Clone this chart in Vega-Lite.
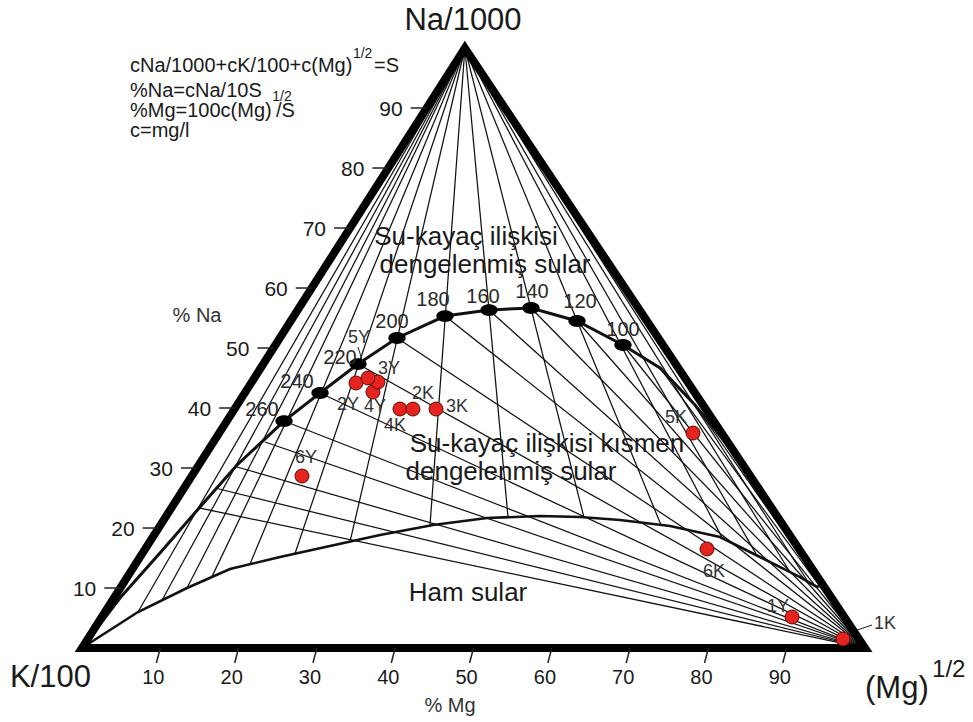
{
  "$schema": "https://vega.github.io/schema/vega-lite/v6.json",
  "width": 973,
  "height": 722,
  "padding": 0,
  "autosize": {"type": "none"},
  "background": "white",
  "config": {"view": {"stroke": null}, "font": "Liberation Sans", "text": {"color": "#1a1a1a"}},
  "encoding": {
    "x": {"field": "x", "type": "quantitative", "scale": {"domain": [-10.47, 113.79], "nice": false, "zero": false}, "axis": null},
    "y": {"field": "y", "type": "quantitative", "scale": {"domain": [-12.33, 108], "nice": false, "zero": false}, "axis": null}
  },
  "datasets": {
    "frame": [
      {"vertex": "K/100", "x": 0, "y": 0, "o": 1},
      {"vertex": "Mg", "x": 100, "y": 0, "o": 2},
      {"vertex": "Na/1000", "x": 48.9, "y": 100, "o": 3}
    ],
    "fullEq": [
      {"x": 0, "y": 0, "o": 1},
      {"x": 4.85, "y": 8.33, "o": 2},
      {"x": 9.96, "y": 15.83, "o": 3},
      {"x": 15.07, "y": 23.5, "o": 4},
      {"x": 19.8, "y": 30.5, "o": 5},
      {"x": 25.8, "y": 37.83, "o": 6},
      {"x": 30.4, "y": 42.5, "o": 7},
      {"x": 35.25, "y": 47.33, "o": 8},
      {"x": 40.23, "y": 51.67, "o": 9},
      {"x": 46.36, "y": 55.33, "o": 10},
      {"x": 51.98, "y": 56.33, "o": 11},
      {"x": 57.34, "y": 56.67, "o": 12},
      {"x": 63.22, "y": 54.5, "o": 13},
      {"x": 69.09, "y": 50.5, "o": 14},
      {"x": 73.82, "y": 46.67, "o": 15},
      {"x": 78.29, "y": 40.5, "o": 16},
      {"x": 83.65, "y": 31.83, "o": 17},
      {"x": 100, "y": 0, "o": 18}
    ],
    "immature": [
      {"x": 0, "y": 0, "o": 1},
      {"x": 7.15, "y": 6.0, "o": 2},
      {"x": 13.41, "y": 10.0, "o": 3},
      {"x": 18.9, "y": 13.17, "o": 4},
      {"x": 25.29, "y": 15.17, "o": 5},
      {"x": 31.67, "y": 17.0, "o": 6},
      {"x": 38.06, "y": 18.83, "o": 7},
      {"x": 44.83, "y": 20.5, "o": 8},
      {"x": 51.72, "y": 21.67, "o": 9},
      {"x": 58.49, "y": 22.0, "o": 10},
      {"x": 63.6, "y": 21.83, "o": 11},
      {"x": 68.71, "y": 21.33, "o": 12},
      {"x": 75.1, "y": 20.33, "o": 13},
      {"x": 81.48, "y": 18.5, "o": 14},
      {"x": 86.59, "y": 15.17, "o": 15},
      {"x": 91.7, "y": 11.83, "o": 16},
      {"x": 93.87, "y": 10.17, "o": 17},
      {"x": 94.38, "y": 10.5, "o": 18}
    ],
    "naFan": [
      {"t": 320, "x": 7.15, "y": 6.0},
      {"t": 300, "x": 10.22, "y": 7.96},
      {"t": 280, "x": 13.41, "y": 10.0},
      {"t": 260, "x": 16.6, "y": 11.9},
      {"t": 240, "x": 21.46, "y": 14.0},
      {"t": 220, "x": 27.2, "y": 15.72},
      {"t": 200, "x": 34.23, "y": 17.73},
      {"t": 180, "x": 44.44, "y": 20.4},
      {"t": 160, "x": 54.41, "y": 21.8},
      {"t": 140, "x": 64.11, "y": 21.78},
      {"t": 120, "x": 73.95, "y": 20.5},
      {"t": 100, "x": 81.74, "y": 18.4},
      {"t": 80, "x": 86.21, "y": 15.4},
      {"t": 60, "x": 90.42, "y": 12.67},
      {"t": 40, "x": 92.72, "y": 11.05}
    ],
    "mgFan": [
      {"t": 340, "x": 15.07, "y": 23.33},
      {"t": 320, "x": 16.99, "y": 26.67},
      {"t": 300, "x": 19.8, "y": 30.17},
      {"t": 280, "x": 23.37, "y": 34.33},
      {"t": 260, "x": 25.8, "y": 37.83},
      {"t": 240, "x": 30.4, "y": 42.5},
      {"t": 220, "x": 35.25, "y": 47.33},
      {"t": 200, "x": 40.23, "y": 51.67},
      {"t": 180, "x": 46.36, "y": 55.33},
      {"t": 160, "x": 51.98, "y": 56.33},
      {"t": 140, "x": 57.34, "y": 56.67},
      {"t": 120, "x": 63.22, "y": 54.5},
      {"t": 100, "x": 69.09, "y": 50.5},
      {"t": 80, "x": 73.82, "y": 46.67},
      {"t": 60, "x": 78.29, "y": 40.5}
    ],
    "tempDots": [
      {"t": 260, "x": 25.8, "y": 37.83},
      {"t": 240, "x": 30.4, "y": 42.5},
      {"t": 220, "x": 35.25, "y": 47.33},
      {"t": 200, "x": 40.23, "y": 51.67},
      {"t": 180, "x": 46.36, "y": 55.33},
      {"t": 160, "x": 51.98, "y": 56.33},
      {"t": 140, "x": 57.34, "y": 56.67},
      {"t": 120, "x": 63.22, "y": 54.5},
      {"t": 100, "x": 69.09, "y": 50.5}
    ],
    "samples": [
      {"id": "6Y", "x": 28.1, "y": 28.67},
      {"id": "2Y", "x": 34.99, "y": 44.17},
      {"id": "4Y", "x": 37.16, "y": 42.67},
      {"id": "3Y", "x": 37.8, "y": 44.33},
      {"id": "5Y", "x": 36.53, "y": 45.0},
      {"id": "4K", "x": 40.61, "y": 39.83},
      {"id": "2K", "x": 42.27, "y": 39.83},
      {"id": "3K", "x": 45.21, "y": 39.83},
      {"id": "5K", "x": 78.03, "y": 35.83},
      {"id": "6K", "x": 79.82, "y": 16.5},
      {"id": "1Y", "x": 90.68, "y": 5.17},
      {"id": "1K", "x": 97.19, "y": 1.5}
    ],
    "sampleLabels": [
      {"label": "1K", "x": 102.55, "y": 4.0},
      {"label": "1Y", "x": 88.89, "y": 6.83},
      {"label": "2Y", "x": 33.97, "y": 40.5},
      {"label": "2K", "x": 43.55, "y": 42.33},
      {"label": "3Y", "x": 39.21, "y": 46.5},
      {"label": "3K", "x": 47.89, "y": 40.17},
      {"label": "4Y", "x": 37.42, "y": 40.17},
      {"label": "4K", "x": 39.97, "y": 37.0},
      {"label": "5Y", "x": 35.38, "y": 51.67},
      {"label": "5K", "x": 75.86, "y": 38.33},
      {"label": "6Y", "x": 28.61, "y": 31.67},
      {"label": "6K", "x": 80.72, "y": 12.67}
    ],
    "leaders": [
      {"label": "5Y", "x": 35.25, "y": 50.17, "x2": 35.89, "y2": 47.5},
      {"label": "1K", "x": 98.98, "y": 3.0, "x2": 100.89, "y2": 3.83}
    ],
    "naTicks": [
      {"v": 10, "x": 2.85, "x2": 4.89, "y": 10},
      {"v": 20, "x": 7.74, "x2": 9.78, "y": 20},
      {"v": 30, "x": 12.63, "x2": 14.67, "y": 30},
      {"v": 40, "x": 17.52, "x2": 19.56, "y": 40},
      {"v": 50, "x": 22.41, "x2": 24.45, "y": 50},
      {"v": 60, "x": 27.3, "x2": 29.34, "y": 60},
      {"v": 70, "x": 32.19, "x2": 34.23, "y": 70},
      {"v": 80, "x": 37.08, "x2": 39.12, "y": 80},
      {"v": 90, "x": 41.97, "x2": 44.01, "y": 90}
    ],
    "mgTicks": [
      {"v": 10, "x": 10, "y": 0, "x2": 9.5, "y2": -2.5},
      {"v": 20, "x": 20, "y": 0, "x2": 19.5, "y2": -2.5},
      {"v": 30, "x": 30, "y": 0, "x2": 29.5, "y2": -2.5},
      {"v": 40, "x": 40, "y": 0, "x2": 39.5, "y2": -2.5},
      {"v": 50, "x": 50, "y": 0, "x2": 49.5, "y2": -2.5},
      {"v": 60, "x": 60, "y": 0, "x2": 59.5, "y2": -2.5},
      {"v": 70, "x": 70, "y": 0, "x2": 69.5, "y2": -2.5},
      {"v": 80, "x": 80, "y": 0, "x2": 79.5, "y2": -2.5},
      {"v": 90, "x": 90, "y": 0, "x2": 89.5, "y2": -2.5}
    ],
    "notes": [
      {"kind": "formula", "label": "cNa/1000+cK/100+c(Mg)", "x": 6.13, "y": 96.0},
      {"kind": "formula", "label": "=S", "x": 37.3, "y": 96.0},
      {"kind": "formula", "label": "%Na=cNa/10S", "x": 6.13, "y": 91.83},
      {"kind": "formula", "label": "%Mg=100c(Mg)", "x": 6.13, "y": 88.5},
      {"kind": "formula", "label": "/S", "x": 24.78, "y": 88.5},
      {"kind": "formula", "label": "c=mg/l", "x": 6.13, "y": 85.17},
      {"kind": "formulaSup", "label": "1/2", "x": 34.6, "y": 98.33},
      {"kind": "formulaSup", "label": "1/2", "x": 24.3, "y": 91.17},
      {"kind": "apex", "label": "Na/1000", "x": 48.66, "y": 103.0},
      {"kind": "base", "label": "K/100", "x": -9.2, "y": -6.5},
      {"kind": "base", "label": "(Mg)", "x": 100.0, "y": -8.33},
      {"kind": "baseSup", "label": "1/2", "x": 108.56, "y": -4.83},
      {"kind": "axisTitle", "label": "% Na", "x": 14.69, "y": 54.33},
      {"kind": "axisTitle", "label": "% Mg", "x": 47.0, "y": -10.67},
      {"kind": "region", "label": "Su-kayaç ilişkisi", "x": 49.04, "y": 67.17},
      {"kind": "region", "label": "dengelenmiş sular", "x": 51.47, "y": 62.5},
      {"kind": "region", "label": "Su-kayaç ilişkisi kısmen", "x": 59.39, "y": 32.67},
      {"kind": "region", "label": "dengelenmiş sular", "x": 54.79, "y": 28.0},
      {"kind": "region", "label": "Ham sular", "x": 49.3, "y": 7.83},
      {"kind": "temp", "label": "260", "x": 22.99, "y": 39.67},
      {"kind": "temp", "label": "240", "x": 27.46, "y": 44.33},
      {"kind": "temp", "label": "220", "x": 32.95, "y": 48.33},
      {"kind": "temp", "label": "200", "x": 39.59, "y": 54.33},
      {"kind": "temp", "label": "180", "x": 44.83, "y": 58.0},
      {"kind": "temp", "label": "160", "x": 51.21, "y": 58.5},
      {"kind": "temp", "label": "140", "x": 57.47, "y": 59.33},
      {"kind": "temp", "label": "120", "x": 63.6, "y": 57.67},
      {"kind": "temp", "label": "100", "x": 69.09, "y": 53.0}
    ]
  },
  "layer": [
    {
      "data": {"name": "naFan"},
      "mark": {"type": "rule", "stroke": "#111111", "strokeWidth": 1.25},
      "encoding": {"x2": {"datum": 48.9}, "y2": {"datum": 100}}
    },
    {
      "data": {"name": "mgFan"},
      "mark": {"type": "rule", "stroke": "#111111", "strokeWidth": 1.25},
      "encoding": {"x2": {"datum": 100}, "y2": {"datum": 0}}
    },
    {
      "data": {"name": "immature"},
      "mark": {"type": "line", "stroke": "#111111", "strokeWidth": 2.6},
      "encoding": {"order": {"field": "o", "type": "quantitative"}}
    },
    {
      "data": {"name": "fullEq"},
      "mark": {"type": "line", "stroke": "#111111", "strokeWidth": 3},
      "encoding": {"order": {"field": "o", "type": "quantitative"}}
    },
    {
      "data": {"name": "frame"},
      "mark": {"type": "line", "interpolate": "linear-closed", "stroke": "#000000", "strokeWidth": 8, "strokeJoin": "miter"},
      "encoding": {"order": {"field": "o", "type": "quantitative"}}
    },
    {
      "data": {"name": "naTicks"},
      "mark": {"type": "rule", "stroke": "#222222", "strokeWidth": 1.5},
      "encoding": {"x2": {"field": "x2"}}
    },
    {
      "data": {"name": "naTicks"},
      "mark": {"type": "text", "align": "right", "baseline": "middle", "dx": -8, "dy": 2, "fontSize": 21},
      "encoding": {"text": {"field": "v", "type": "quantitative"}}
    },
    {
      "data": {"name": "mgTicks"},
      "mark": {"type": "rule", "stroke": "#222222", "strokeWidth": 1.5},
      "encoding": {"x2": {"field": "x2"}, "y2": {"field": "y2"}}
    },
    {
      "data": {"name": "mgTicks"},
      "mark": {"type": "text", "align": "center", "baseline": "top", "dx": -3, "dy": 5, "fontSize": 20},
      "encoding": {
        "x": {"field": "x2", "type": "quantitative"},
        "y": {"field": "y2", "type": "quantitative"},
        "text": {"field": "v", "type": "quantitative"}
      }
    },
    {
      "data": {"name": "tempDots"},
      "mark": {"type": "point", "filled": true, "fill": "#000000", "opacity": 1, "size": 300, "shape": "M-1,0A1,0.68,0,1,1,1,0A1,0.68,0,1,1,-1,0Z"}
    },
    {
      "data": {"name": "leaders"},
      "mark": {"type": "rule", "stroke": "#222222", "strokeWidth": 1},
      "encoding": {"x2": {"field": "x2"}, "y2": {"field": "y2"}}
    },
    {
      "data": {"name": "samples"},
      "mark": {"type": "circle", "size": 195, "fill": "#e5231f", "stroke": "#5a0c08", "strokeWidth": 1, "opacity": 1}
    },
    {
      "data": {"name": "sampleLabels"},
      "mark": {"type": "text", "align": "center", "baseline": "middle", "fontSize": 18, "color": "#333333"},
      "encoding": {"text": {"field": "label"}}
    },
    {
      "data": {"name": "notes"},
      "transform": [{"filter": "datum.kind === 'temp'"}],
      "mark": {"type": "text", "align": "center", "baseline": "middle", "fontSize": 20, "color": "#2a2a2a"},
      "encoding": {"text": {"field": "label"}}
    },
    {
      "data": {"name": "notes"},
      "transform": [{"filter": "datum.kind === 'formula'"}],
      "mark": {"type": "text", "align": "left", "baseline": "alphabetic", "fontSize": 20},
      "encoding": {"text": {"field": "label"}}
    },
    {
      "data": {"name": "notes"},
      "transform": [{"filter": "datum.kind === 'formulaSup'"}],
      "mark": {"type": "text", "align": "left", "baseline": "alphabetic", "fontSize": 14},
      "encoding": {"text": {"field": "label"}}
    },
    {
      "data": {"name": "notes"},
      "transform": [{"filter": "datum.kind === 'apex'"}],
      "mark": {"type": "text", "align": "center", "baseline": "alphabetic", "fontSize": 31},
      "encoding": {"text": {"field": "label"}}
    },
    {
      "data": {"name": "notes"},
      "transform": [{"filter": "datum.kind === 'base'"}],
      "mark": {"type": "text", "align": "left", "baseline": "alphabetic", "fontSize": 31},
      "encoding": {"text": {"field": "label"}}
    },
    {
      "data": {"name": "notes"},
      "transform": [{"filter": "datum.kind === 'baseSup'"}],
      "mark": {"type": "text", "align": "left", "baseline": "alphabetic", "fontSize": 24},
      "encoding": {"text": {"field": "label"}}
    },
    {
      "data": {"name": "notes"},
      "transform": [{"filter": "datum.kind === 'axisTitle'"}],
      "mark": {"type": "text", "align": "center", "baseline": "alphabetic", "fontSize": 20, "color": "#333333"},
      "encoding": {"text": {"field": "label"}}
    },
    {
      "data": {"name": "notes"},
      "transform": [{"filter": "datum.kind === 'region'"}],
      "mark": {"type": "text", "align": "center", "baseline": "alphabetic", "fontSize": 26},
      "encoding": {"text": {"field": "label"}}
    }
  ]
}
